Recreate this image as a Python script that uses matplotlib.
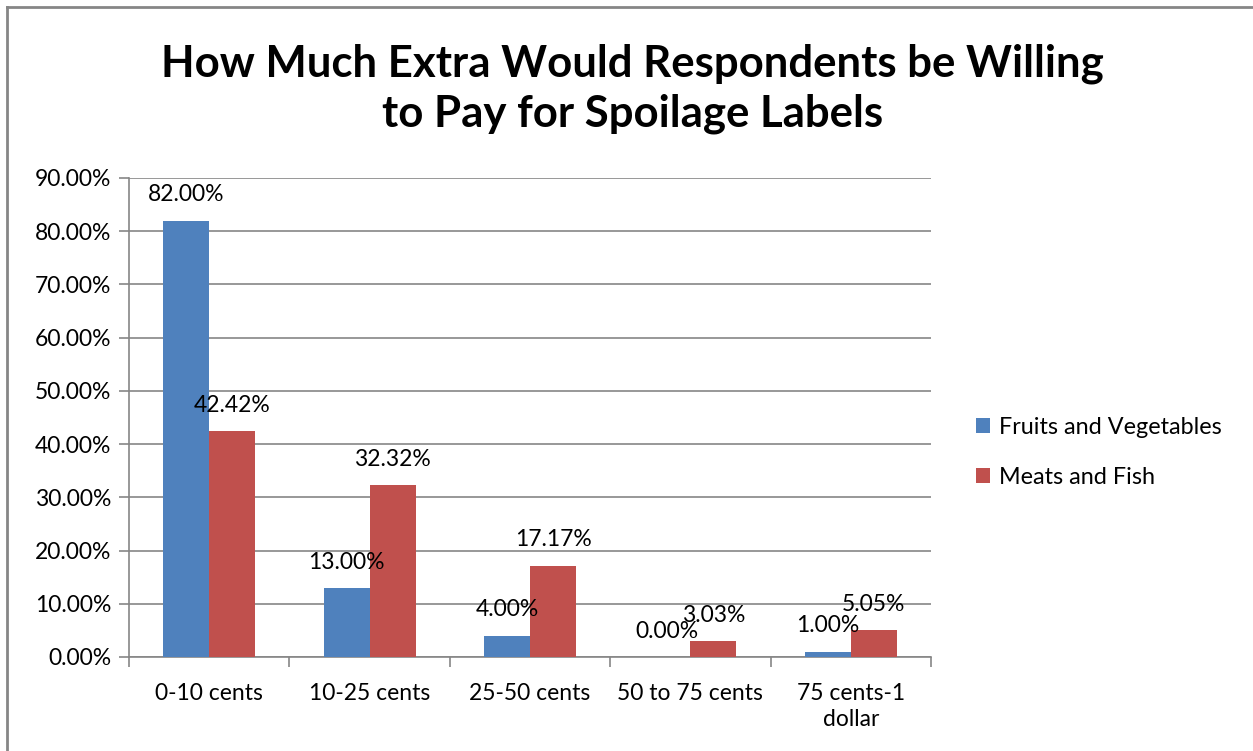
import numpy as np
import matplotlib.pyplot as plt
from matplotlib.lines import Line2D
from matplotlib.ticker import FuncFormatter

# Datos del gráfico
categorias = ["0-10 cents", "10-25 cents", "25-50 cents", "50 to 75 cents", "75 cents-1\ndollar"]
frutas = [82.00, 13.00, 4.00, 0.00, 1.00]
carnes = [42.42, 32.32, 17.17, 3.03, 5.05]
series = ["Fruits and Vegetables", "Meats and Fish"]
colores = ["#4F81BD", "#C0504D"]
gris = "#868686"

plt.rcParams['font.family'] = ['Lato', 'DejaVu Sans']
fs = 16.5

fig = plt.figure(figsize=(12.53, 7.51), dpi=100)
ax = fig.add_axes([0.103, 0.1252, 0.640, 0.6378])

# Marco exterior (solo izquierda y arriba)
fig.add_artist(Line2D([7 / 1253, 7 / 1253], [0, 1 - 7 / 751], color=gris, lw=2))
fig.add_artist(Line2D([7 / 1253, 1], [1 - 7 / 751, 1 - 7 / 751], color=gris, lw=2))

x = np.arange(len(categorias))
w = 0.287
b1 = ax.bar(x - w / 2, frutas, w, color=colores[0], label=series[0], zorder=3)
b2 = ax.bar(x + w / 2, carnes, w, color=colores[1], label=series[1], zorder=3)

for barras, vals in [(b1, frutas), (b2, carnes)]:
    for r, v in zip(barras, vals):
        ax.annotate(f"{v:.2f}%", (r.get_x() + r.get_width() / 2, v),
                    xytext=(0, 18.5), textcoords="offset points",
                    ha="center", va="center", fontsize=fs, zorder=4)

ax.set_xlim(-0.5, len(categorias) - 0.5)
ax.set_ylim(0, 90)
ax.set_yticks(np.arange(0, 91, 10))
ax.yaxis.set_major_formatter(FuncFormatter(lambda v, p: f"{v:.2f}%"))
ax.yaxis.grid(True, color=gris, lw=1.2, zorder=0)

ax.set_xticks(x)
ax.set_xticklabels(categorias, fontsize=fs, linespacing=1.3)
ax.set_xticks(np.arange(-0.5, len(categorias), 1), minor=True)
ax.tick_params(axis="x", which="major", length=0, pad=19)
ax.tick_params(axis="x", which="minor", length=7, width=1.2, color=gris)
ax.tick_params(axis="y", length=7, width=1.2, color=gris, labelsize=fs, pad=6)

for s in ["top", "right"]:
    ax.spines[s].set_visible(False)
for s in ["left", "bottom"]:
    ax.spines[s].set_color(gris)
    ax.spines[s].set_linewidth(1.2)

fig.text(0.505, 0.882, "How Much Extra Would Respondents be Willing\nto Pay for Spoilage Labels",
         ha="center", va="center", fontsize=31.5, fontweight="bold", linespacing=1.3)

fig.legend(handles=[b1, b2], labels=series, loc="center left",
           bbox_to_anchor=(0.762, 0.398), frameon=False, fontsize=16.8,
           handlelength=0.6, handleheight=0.6, handletextpad=0.4, labelspacing=1.25)

fig.savefig("out.png", dpi=100)
